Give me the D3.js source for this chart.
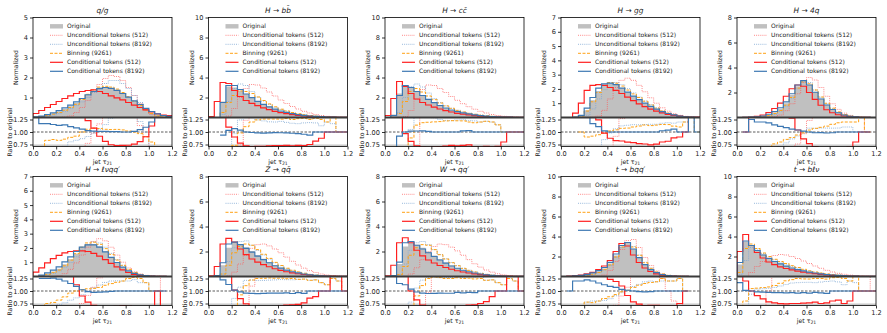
<!DOCTYPE html>
<html lang="en">
<head>
<meta charset="utf-8">
<title>Jet tau21 by process</title>
<script src="https://d3js.org/d3.v7.min.js"></script>
<style>
  body { margin: 0; background: #fff; }
  svg text, svg tspan { font-family: "DejaVu Sans", sans-serif; fill: #222; }
</style>
</head>
<body>
<script>
// panel titles and y-axis tops
const titles = ["q/g", "H → bb̄", "H → cc̄", "H → gg", "H → 4q",
                "H → ℓνqq′", "Z → qq̄", "W → qq′", "t → bqq′", "t → bℓν"];
const yMax = [5, 10, 10, 7, 8, 7, 8, 8, 10, 10];
const yStep = [1, 2, 2, 1, 2, 1, 2, 2, 2, 2];
const xTicks = [0, 0.2, 0.4, 0.6, 0.8, 1.0, 1.2];
const ratioTicks = [0.75, 1.0, 1.25];
const binWidth = 0.05; // bins from 0 to 1.2

// normalized histograms, one row per panel (24 bins each)
const original = [
  [0.02,0.06,0.12,0.2,0.3,0.42,0.56,0.72,0.9,1.1,1.28,1.42,1.48,1.45,1.35,1.2,1.02,0.82,0.62,0.42,0.25,0.12,0.05,0.02],
  [0,0,1.6,3.1,3.0,2.7,2.35,2.0,1.65,1.35,1.08,0.85,0.66,0.52,0.4,0.3,0.22,0.16,0.11,0.08,0.05,0.03,0.02,0.01],
  [0,0.3,2.4,3.2,2.95,2.55,2.15,1.8,1.48,1.2,0.95,0.75,0.58,0.45,0.35,0.27,0.2,0.14,0.1,0.07,0.05,0.03,0.02,0.01],
  [0,0,0,0.1,0.5,1.2,1.85,2.3,2.4,2.3,2.05,1.78,1.5,1.25,1.0,0.78,0.58,0.4,0.27,0.17,0.1,0.05,0.02,0.01],
  [0,0.01,0.02,0.05,0.1,0.22,0.42,0.7,1.15,1.8,2.5,2.9,2.6,2.05,1.5,1.02,0.65,0.38,0.2,0.1,0.05,0.02,0.01,0],
  [0,0.08,0.2,0.35,0.55,0.85,1.2,1.6,2.0,2.25,2.28,2.1,1.75,1.35,0.98,0.65,0.4,0.22,0.12,0.06,0.03,0.01,0.01,0],
  [0,0.05,0.9,2.3,2.7,2.6,2.35,2.05,1.72,1.42,1.15,0.9,0.7,0.53,0.4,0.3,0.21,0.14,0.09,0.06,0.04,0.02,0.01,0.01],
  [0,0.05,1.0,2.4,2.7,2.55,2.3,2.0,1.68,1.38,1.12,0.88,0.68,0.52,0.39,0.29,0.2,0.14,0.09,0.06,0.04,0.02,0.01,0.01],
  [0,0.02,0.05,0.1,0.18,0.3,0.5,0.8,1.3,2.1,3.0,3.35,2.75,1.9,1.2,0.7,0.38,0.2,0.1,0.05,0.02,0.01,0,0],
  [1.2,3.5,3.1,2.65,2.2,1.85,1.55,1.3,1.08,0.88,0.72,0.58,0.46,0.36,0.28,0.21,0.15,0.11,0.08,0.05,0.03,0.02,0.01,0.01]
];
const uncond512 = [
  [0,0,0,0,0,0.02,0.08,0.25,0.5,0.85,1.25,1.65,1.95,2.1,2.05,1.85,1.5,1.1,0.7,0.38,0.15,0.05,0.02,0.01],
  [0,0,0,0.15,0.9,2.0,2.9,3.3,3.25,2.95,2.55,2.15,1.75,1.4,1.1,0.85,0.62,0.45,0.3,0.2,0.12,0.07,0.04,0.02],
  [0,0,0,0.1,0.7,1.8,2.8,3.25,3.2,2.9,2.5,2.1,1.72,1.38,1.08,0.83,0.62,0.45,0.3,0.2,0.12,0.07,0.04,0.02],
  [0,0,0,0,0,0.02,0.1,0.5,1.3,2.1,2.6,2.75,2.6,2.25,1.8,1.38,1.0,0.68,0.44,0.27,0.15,0.08,0.04,0.02],
  [0,0,0,0,0,0.01,0.05,0.2,0.55,1.1,1.9,2.8,3.2,3.0,2.4,1.7,1.1,0.65,0.35,0.17,0.08,0.03,0.01,0],
  [0,0,0,0,0.05,0.2,0.5,0.95,1.5,2.05,2.45,2.65,2.5,2.05,1.5,1.0,0.6,0.33,0.17,0.08,0.04,0.02,0.01,0],
  [0,0,0,0.05,0.35,1.0,1.7,2.25,2.55,2.6,2.45,2.2,1.9,1.55,1.22,0.92,0.67,0.47,0.32,0.2,0.12,0.07,0.04,0.02],
  [0,0,0,0.02,0.2,0.7,1.35,1.95,2.4,2.6,2.55,2.35,2.05,1.7,1.35,1.02,0.75,0.52,0.35,0.22,0.13,0.07,0.04,0.02],
  [0,0,0,0,0,0,0.02,0.15,0.6,1.5,2.7,3.6,3.7,2.9,1.9,1.1,0.55,0.25,0.1,0.04,0.015,0.005,0,0],
  [0,0,0.4,1.0,1.5,1.85,2.1,2.2,2.15,2.0,1.8,1.55,1.3,1.05,0.82,0.62,0.45,0.32,0.22,0.14,0.08,0.05,0.03,0.01]
];
const uncond8192 = [
  [0,0.02,0.06,0.12,0.2,0.3,0.45,0.6,0.78,1.0,1.25,1.5,1.7,1.85,1.85,1.7,1.45,1.1,0.75,0.42,0.18,0.06,0.02,0.01],
  [0,0,0.3,1.6,2.9,3.35,3.2,2.6,2.05,1.65,1.3,1.02,0.8,0.62,0.47,0.35,0.26,0.19,0.13,0.09,0.06,0.035,0.02,0.01],
  [0,0,0.5,2.0,3.1,3.35,3.05,2.45,1.9,1.5,1.17,0.92,0.72,0.56,0.43,0.33,0.24,0.17,0.12,0.08,0.05,0.03,0.02,0.01],
  [0,0,0,0.02,0.15,0.6,1.3,1.95,2.35,2.45,2.3,2.02,1.72,1.43,1.15,0.9,0.67,0.47,0.32,0.2,0.12,0.06,0.03,0.01],
  [0,0,0,0.01,0.03,0.1,0.25,0.5,0.9,1.55,2.3,2.85,2.8,2.2,1.62,1.1,0.7,0.41,0.22,0.11,0.05,0.02,0.01,0],
  [0,0.02,0.1,0.22,0.4,0.65,0.98,1.38,1.85,2.25,2.42,2.35,2.05,1.62,1.18,0.78,0.48,0.27,0.14,0.07,0.03,0.01,0.005,0],
  [0,0,0.2,1.2,2.3,2.8,2.85,2.5,2.08,1.72,1.4,1.1,0.86,0.65,0.49,0.37,0.26,0.17,0.11,0.07,0.045,0.025,0.012,0.01],
  [0,0,0.15,1.0,2.1,2.7,2.8,2.55,2.15,1.75,1.42,1.12,0.87,0.66,0.5,0.37,0.26,0.17,0.11,0.07,0.045,0.025,0.012,0.01],
  [0,0,0.02,0.06,0.14,0.24,0.4,0.65,1.1,1.9,2.9,3.4,3.0,2.15,1.42,0.84,0.45,0.24,0.12,0.06,0.025,0.01,0,0],
  [0.2,1.6,2.9,2.75,2.3,1.95,1.66,1.43,1.22,1.02,0.84,0.68,0.54,0.42,0.33,0.25,0.18,0.13,0.09,0.06,0.035,0.02,0.01,0.01]
];
const binning9261 = [
  [0.01,0.04,0.1,0.17,0.25,0.36,0.5,0.66,0.9,1.16,1.38,1.52,1.56,1.52,1.42,1.25,1.04,0.82,0.6,0.38,0.2,0.08,0.03,0.01],
  [0,0,0.5,1.5,2.2,2.65,2.6,2.4,2.05,1.7,1.36,1.07,0.83,0.66,0.5,0.38,0.28,0.2,0.14,0.1,0.06,0.04,0.02,0.01],
  [0,0,0.4,1.6,2.6,2.9,2.55,2.15,1.78,1.45,1.16,0.92,0.71,0.55,0.42,0.32,0.24,0.17,0.12,0.08,0.05,0.03,0.02,0.01],
  [0,0,0.02,0.1,0.45,1.1,1.75,2.25,2.45,2.4,2.2,1.92,1.65,1.4,1.14,0.88,0.66,0.46,0.31,0.19,0.11,0.06,0.03,0.01],
  [0,0,0.01,0.03,0.06,0.15,0.32,0.56,0.98,1.6,2.35,2.85,2.7,2.2,1.64,1.14,0.75,0.45,0.24,0.12,0.06,0.03,0.01,0],
  [0,0.02,0.15,0.27,0.45,0.75,1.15,1.6,2.05,2.35,2.4,2.25,1.95,1.55,1.15,0.78,0.5,0.28,0.15,0.07,0.03,0.01,0.005,0],
  [0,0,0.2,0.9,1.9,2.4,2.6,2.5,2.15,1.78,1.45,1.13,0.88,0.66,0.5,0.37,0.26,0.17,0.11,0.07,0.045,0.025,0.012,0.01],
  [0,0,0.15,0.8,1.7,2.3,2.55,2.5,2.15,1.75,1.4,1.1,0.86,0.65,0.49,0.36,0.25,0.17,0.11,0.07,0.045,0.025,0.012,0.01],
  [0,0,0.02,0.07,0.14,0.23,0.4,0.68,1.15,1.95,2.95,3.4,2.95,2.12,1.38,0.82,0.45,0.25,0.12,0.06,0.025,0.01,0,0],
  [0.4,2.8,3.25,2.8,2.35,2.0,1.72,1.5,1.3,1.08,0.9,0.72,0.57,0.45,0.35,0.26,0.19,0.14,0.1,0.06,0.04,0.02,0.01,0.01]
];
const cond512 = [
  [0.2,0.35,0.5,0.65,0.8,0.95,1.08,1.2,1.3,1.35,1.38,1.3,1.2,1.08,0.98,0.88,0.75,0.62,0.5,0.38,0.28,0.18,0.12,0.1],
  [0.1,1.6,3.5,3.4,2.7,2.1,1.7,1.42,1.18,0.96,0.78,0.62,0.48,0.38,0.29,0.22,0.16,0.12,0.09,0.07,0.05,0.03,0.02,0.01],
  [0.2,1.9,3.6,3.1,2.4,1.85,1.5,1.25,1.04,0.85,0.68,0.55,0.42,0.33,0.26,0.19,0.14,0.1,0.07,0.05,0.04,0.03,0.02,0.01],
  [0,0,0.3,1.0,1.9,2.25,2.3,2.25,2.1,1.9,1.68,1.42,1.18,0.96,0.76,0.58,0.44,0.32,0.22,0.15,0.09,0.05,0.03,0.02],
  [0,0.01,0.03,0.1,0.2,0.4,0.72,1.15,1.7,2.3,2.6,2.5,2.0,1.45,0.98,0.62,0.38,0.22,0.12,0.07,0.04,0.02,0.01,0],
  [0.3,0.6,0.95,1.25,1.48,1.65,1.75,1.8,1.8,1.75,1.62,1.42,1.18,0.92,0.68,0.46,0.28,0.15,0.08,0.04,0.02,0.01,0.005,0],
  [0.05,0.8,2.6,3.05,2.75,2.2,1.75,1.4,1.15,0.95,0.78,0.62,0.49,0.38,0.29,0.22,0.16,0.12,0.08,0.06,0.04,0.03,0.02,0.01],
  [0.05,0.9,2.7,3.1,2.7,2.1,1.65,1.32,1.08,0.88,0.72,0.58,0.46,0.36,0.28,0.21,0.15,0.11,0.08,0.06,0.04,0.03,0.02,0.01],
  [0,0.03,0.08,0.15,0.26,0.42,0.68,1.05,1.6,2.5,3.3,3.05,2.15,1.4,0.85,0.5,0.27,0.14,0.07,0.035,0.015,0.01,0,0],
  [2.5,4.2,3.1,2.4,1.85,1.45,1.18,0.97,0.8,0.66,0.54,0.44,0.35,0.28,0.21,0.16,0.12,0.09,0.06,0.04,0.03,0.02,0.01,0.01]
];
const cond8192 = [
  [0.03,0.07,0.14,0.23,0.34,0.48,0.62,0.78,0.95,1.13,1.3,1.44,1.5,1.46,1.36,1.2,1.02,0.83,0.65,0.46,0.3,0.18,0.1,0.06],
  [0,0,1.5,3.2,3.2,2.8,2.35,1.98,1.62,1.32,1.06,0.84,0.65,0.51,0.39,0.29,0.21,0.15,0.11,0.08,0.05,0.03,0.02,0.01],
  [0,0.2,2.2,3.2,3.0,2.6,2.2,1.82,1.48,1.2,0.95,0.75,0.58,0.46,0.36,0.27,0.2,0.14,0.1,0.07,0.05,0.03,0.02,0.01],
  [0,0,0.02,0.15,0.65,1.4,2.05,2.35,2.4,2.3,2.05,1.78,1.5,1.25,1.0,0.78,0.58,0.41,0.28,0.18,0.1,0.05,0.03,0.01],
  [0,0.01,0.025,0.06,0.12,0.26,0.48,0.78,1.25,1.9,2.6,2.95,2.6,2.02,1.48,1.0,0.64,0.38,0.2,0.1,0.05,0.02,0.01,0],
  [0,0.1,0.25,0.44,0.68,1.02,1.38,1.75,2.05,2.22,2.22,2.05,1.72,1.34,0.98,0.65,0.4,0.22,0.12,0.06,0.03,0.01,0.01,0],
  [0,0.08,1.1,2.6,2.75,2.55,2.25,1.95,1.63,1.35,1.1,0.86,0.67,0.51,0.38,0.29,0.2,0.14,0.09,0.06,0.04,0.02,0.01,0.01],
  [0,0.08,1.15,2.7,2.8,2.5,2.2,1.9,1.6,1.32,1.07,0.84,0.66,0.5,0.38,0.28,0.2,0.14,0.09,0.06,0.04,0.02,0.01,0.01],
  [0,0.02,0.06,0.12,0.22,0.36,0.58,0.9,1.42,2.25,3.1,3.4,2.75,1.88,1.18,0.69,0.38,0.2,0.1,0.05,0.02,0.01,0,0],
  [1.4,3.55,3.1,2.6,2.15,1.8,1.5,1.26,1.04,0.85,0.69,0.56,0.44,0.35,0.27,0.2,0.15,0.11,0.08,0.05,0.03,0.02,0.01,0.01]
];

// line series drawn on top of the grey original
const series = [
  {name: "Unconditional tokens (512)",  data: uncond512,   color: "#ff5a5a", width: 0.9, dash: "1,1.1", opacity: 0.8},
  {name: "Unconditional tokens (8192)", data: uncond8192,  color: "#7fa8d4", width: 0.9, dash: "1,1.1", opacity: 0.9},
  {name: "Binning (9261)",              data: binning9261, color: "#ffa216", width: 1.0, dash: "3,1.5", opacity: 1},
  {name: "Conditional tokens (512)",    data: cond512,     color: "#ff1f1f", width: 1.2, dash: null,    opacity: 1},
  {name: "Conditional tokens (8192)",   data: cond8192,    color: "#3d78b3", width: 1.2, dash: null,    opacity: 1}
];

const width = 887, height = 333;
const colX = [33, 208.5, 385, 561, 737];
const rowY = [17.5, 176.5];
const pw = 139, mainH = 100, ratH = 29;

const svg = d3.select("body").append("svg")
  .attr("width", width).attr("height", height);

const nb = original[0].length;
const edges = d3.range(nb + 1).map(i => +(i * binWidth).toFixed(3));

// outline points of a histogram: start/end on zero
function stepPoints(vals) {
  const pts = [[edges[0], 0]];
  vals.forEach((v, i) => { pts.push([edges[i], v]); pts.push([edges[i + 1], v]); });
  pts.push([edges[nb], 0]);
  return pts;
}
function ratioPoints(vals, ref) {
  const pts = [];
  vals.forEach((v, i) => {
    if (ref[i] > 0) {
      const r = Math.min(v / ref[i], 3);
      pts.push([edges[i], r]); pts.push([edges[i + 1], r]);
    } else pts.push(null);
  });
  return pts;
}

function styleAxis(g) {
  g.select(".domain").remove();
  g.selectAll(".tick line").attr("stroke", "#000").attr("stroke-width", 0.8);
  g.selectAll(".tick text").attr("font-size", 6.6).attr("fill", "#222");
}

titles.forEach((title, p) => {
  const x0 = colX[p % 5], top = rowY[Math.floor(p / 5)];
  const mBot = top + mainH, rBot = mBot + ratH;

  const x = d3.scaleLinear().domain([0, 1.2]).range([x0, x0 + pw]);
  const y = d3.scaleLinear().domain([0, yMax[p]]).range([mBot, top]);
  const yr = d3.scaleLinear().domain([0.71, 1.29]).range([rBot, mBot]);

  const g = svg.append("g");

  // clip paths
  const cm = "clipm" + p, cr = "clipr" + p;
  svg.append("clipPath").attr("id", cm).append("rect")
    .attr("x", x0).attr("y", top).attr("width", pw).attr("height", mainH);
  svg.append("clipPath").attr("id", cr).append("rect")
    .attr("x", x0).attr("y", mBot).attr("width", pw).attr("height", ratH);

  const main = g.append("g").attr("clip-path", `url(#${cm})`);
  const area = d3.area().x(d => x(d[0])).y0(y(0)).y1(d => y(d[1]));
  const line = d3.line().x(d => x(d[0])).y(d => y(d[1]));

  main.append("path").attr("d", area(stepPoints(original[p])))
    .attr("fill", "#c0c0c0");

  series.forEach(s => {
    main.append("path").attr("d", line(stepPoints(s.data[p])))
      .attr("fill", "none").attr("stroke", s.color)
      .attr("stroke-width", s.width).attr("stroke-dasharray", s.dash)
      .attr("stroke-opacity", s.opacity);
  });

  // ratio panel
  const rat = g.append("g").attr("clip-path", `url(#${cr})`);
  rat.append("rect").attr("x", x0).attr("y", rBot - 2).attr("width", pw).attr("height", 2)
    .attr("fill", "#c8c8c8");
  rat.append("line").attr("x1", x0).attr("x2", x0 + pw)
    .attr("y1", yr(1)).attr("y2", yr(1))
    .attr("stroke", "#333").attr("stroke-width", 0.8).attr("stroke-dasharray", "2.5,1.5");
  const rline = d3.line().defined(d => d !== null).x(d => x(d[0])).y(d => yr(d[1]));
  series.forEach(s => {
    rat.append("path").attr("d", rline(ratioPoints(s.data[p], original[p])))
      .attr("fill", "none").attr("stroke", s.color)
      .attr("stroke-width", s.width).attr("stroke-dasharray", s.dash)
      .attr("stroke-opacity", s.opacity);
  });

  // frames
  g.append("rect").attr("x", x0).attr("y", top).attr("width", pw).attr("height", mainH + ratH)
    .attr("fill", "none").attr("stroke", "#000").attr("stroke-width", 0.8);
  g.append("line").attr("x1", x0).attr("x2", x0 + pw).attr("y1", mBot).attr("y2", mBot)
    .attr("stroke", "#3a3a3a").attr("stroke-width", 1.8);

  // axes
  const yt = d3.range(yStep[p], yMax[p] + 0.001, yStep[p]);
  g.append("g").attr("transform", `translate(${x0},0)`)
    .call(d3.axisLeft(y).tickValues(yt).tickSize(3).tickPadding(2).tickFormat(d3.format("d")))
    .call(styleAxis);
  g.append("g").attr("transform", `translate(${x0},0)`)
    .call(d3.axisLeft(yr).tickValues(ratioTicks).tickSize(3).tickPadding(2).tickFormat(d3.format(".2f")))
    .call(styleAxis);
  g.append("g").attr("transform", `translate(0,${rBot})`)
    .call(d3.axisBottom(x).tickValues(xTicks).tickSize(3).tickPadding(1.5).tickFormat(d3.format(".1f")))
    .call(styleAxis);

  // labels
  g.append("text").attr("x", x0 + pw / 2).attr("y", top - 5)
    .attr("text-anchor", "middle").attr("font-size", 7.4).attr("font-style", "italic")
    .attr("fill", "#111").text(title);
  g.append("text").attr("transform", `translate(${x0 - 15},${top + mainH / 2}) rotate(-90)`)
    .attr("text-anchor", "middle").attr("font-size", 6.2).attr("fill", "#222").text("Normalized");
  g.append("text").attr("transform", `translate(${x0 - 21.5},${mBot + ratH / 2}) rotate(-90)`)
    .attr("text-anchor", "middle").attr("font-size", 6.2).attr("fill", "#222").text("Ratio to original");
  const xl = g.append("text").attr("x", x0 + pw / 2).attr("y", rBot + 17)
    .attr("text-anchor", "middle").attr("font-size", 6.2).attr("fill", "#222");
  xl.append("tspan").attr("fill", "#222").text("jet τ");
  xl.append("tspan").attr("fill", "#222").attr("font-size", 4.6).attr("dy", 1.3).text("21");

  // legend
  const lg = g.append("g").attr("transform", `translate(${x0 + 17},${top + 8.8})`);
  const rows = [{name: "Original"}].concat(series);
  rows.forEach((s, k) => {
    const ly = k * 9;
    if (k === 0) {
      lg.append("rect").attr("x", 0).attr("y", ly - 2.2).attr("width", 13).attr("height", 4.4)
        .attr("fill", "#c0c0c0");
    } else {
      lg.append("line").attr("x1", 0).attr("x2", 13).attr("y1", ly).attr("y2", ly)
        .attr("stroke", s.color).attr("stroke-width", s.width)
        .attr("stroke-dasharray", s.dash).attr("stroke-opacity", s.opacity);
    }
    lg.append("text").attr("x", 17).attr("y", ly + 2.1).attr("font-size", 6)
      .attr("fill", "#222").text(s.name);
  });
});
</script>
</body>
</html>
